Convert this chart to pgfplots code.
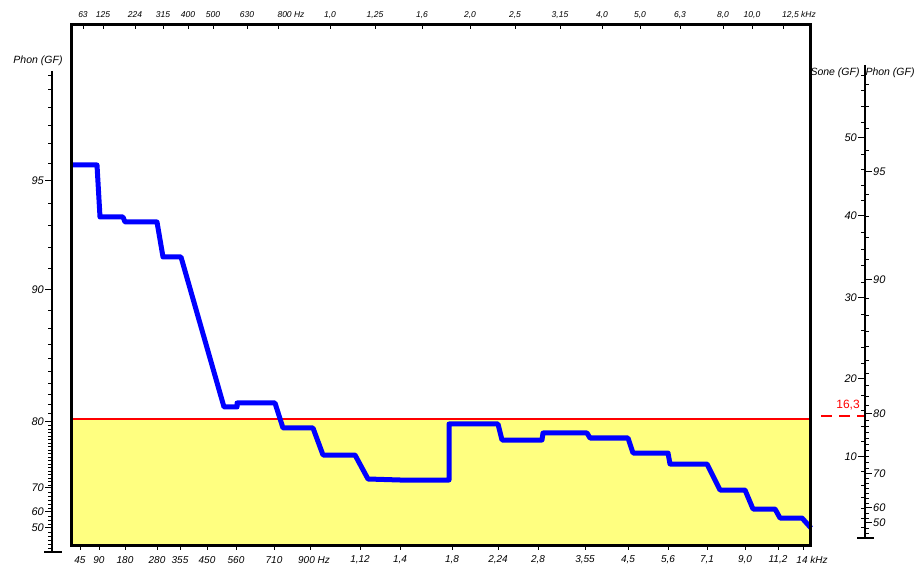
\documentclass[border=0pt]{standalone}
\usepackage{pgfplots}
\pgfplotsset{compat=1.18}
\usepackage{fontspec}
\setmainfont{Liberation Sans}
\definecolor{fillyel}{RGB}{255,255,128}
\definecolor{curveblue}{RGB}{0,0,255}
\definecolor{limred}{RGB}{255,0,0}
\newcommand{\ft}{\itshape\fontsize{8.5}{10}\selectfont}
\newcommand{\fb}{\itshape\fontsize{10}{12}\selectfont}
\newcommand{\fs}{\itshape\fontsize{11}{13}\selectfont}
\newcommand{\fh}{\itshape\fontsize{10.5}{12}\selectfont}
\begin{document}
\begin{tikzpicture}
\begin{axis}[
  scale only axis, width=919pt, height=569pt,
  xmin=0, xmax=919, ymin=0, ymax=569, y dir=reverse,
  axis lines=none, clip=false, at={(0,0)}, anchor=south west,
]
% yellow region below the limit
\addplot[fill=fillyel, draw=none] coordinates {(71,419) (810,419) (810,546) (71,546)} -- cycle;
% limit line
\addplot[limred, line width=2pt] coordinates {(71,419) (810,419)};
\addplot[limred, line width=1.6pt, dash pattern=on 11pt off 7pt] coordinates {(821,416) (864,416)};
% loudness curve (pixel coordinates of the chart)
\addplot[curveblue, line width=5pt, line join=round] coordinates {
(71,165) (97,165) (100,217) (123,217) (125,222) (157,222) (163,257) (181,257)
(224,407) (237,407) (237,403) (275,403) (283,428) (313,428) (323,455) (355,455)
(368,479) (400,480) (449,480) (449,424) (498,424) (502,440) (542,440) (543,433)
(587,433) (590,438) (628,438) (633,453) (668,453) (670,464) (707,464) (720,490)
(745,490) (753,509) (775,509) (780,518) (802,518) (811,528)};
\end{axis}
\begin{scope}[x=1pt, y=-1pt, yshift=569pt]
% frame
\draw[line width=3pt] (71,25) rectangle (810,546);
% top labels
\foreach \x/\t in {83/63,103/125,135/224,163/315,188/400,213/500,247/630,291/{800 Hz},330/{1,0},375/{1,25},422/{1,6},470/{2,0},515/{2,5},560/{3,15},602/{4,0},640/{5,0},680/{6,3},723/{8,0},752/{10,0},799/{12,5 kHz}}
  {\node[font=\ft] at (\x,15) {\t};}
\foreach \x in {83,103,135,163,188,213,247,278,330,375,422,470,515,560,602,640,680,723,752,783}
  {\draw[line width=0.8pt] (\x,25) -- (\x,29);}
% bottom labels
\foreach \x/\t in {80/45,99/90,125/180,157/280,180/355,207/450,236/560,274/710,314/{900 Hz},360/{1,12},400/{1,4},452/{1,8},498/{2,24},538/{2,8},585/{3,55},628/{4,5},668/{5,6},707/{7,1},745/{9,0},778/{11,2},812/{14 kHz}}
  {\node[font=\fb] at (\x,560) {\t};}
\foreach \x in {80,99,125,157,180,207,236,274,310,360,400,452,498,538,585,628,668,707,745,778,803}
  {\draw[line width=0.8pt] (\x,546) -- (\x,550);}
% left phon scale
\node[font=\fh] at (38,61) {Phon (GF)};
\draw[line width=2.5pt] (52,71) -- (52,552);
\draw[line width=2.5pt] (44,552) -- (62,552);
\foreach \y/\t in {181/95,290/90,422/80,488/70,512/60,528/50}
  {\draw[line width=1pt] (45,\y) -- (52,\y); \node[font=\fs, anchor=east, inner sep=1pt] at (45,\y) {\t};}
\foreach \y in {75,89,107,125,143,163,203,225,247,268,310,328,344,358,371,383,394,404,413,425.5,429,432.5,436,439.5,443,446.5,450,453.5,457,460.5,464,467.5,471,474.5,478,481.5,485,492,496,500,504,508,516,520,524,532,536,540,544,548}
  {\draw[line width=0.7pt] (48,\y) -- (52,\y);}
% right sone / phon scale
\node[font=\fh] at (835,73) {Sone (GF)};
\node[font=\fh] at (890,73) {Phon (GF)};
\draw[line width=2.5pt] (865,65) -- (865,538);
\draw[line width=2.5pt] (857,538) -- (874,538);
\foreach \y/\t in {138/50,216/40,298/30,379/20,457/10}
  {\draw[line width=1pt] (858,\y) -- (865,\y); \node[font=\fs, anchor=east, inner sep=1pt] at (858,\y) {\t};}
\foreach \y/\t in {172/95,280/90,414/80,474/70,508/60,523/50}
  {\draw[line width=1pt] (865,\y) -- (872,\y); \node[font=\fs, anchor=west, inner sep=1pt] at (872,\y) {\t};}
\foreach \y in {75,90,106,122,154,169,185,200,232,249,265,282,314,330,347,363,395,410,426,441,471,485,497,508,518,527}
  {\draw[line width=0.7pt] (861,\y) -- (865,\y);}
\foreach \y in {84,106,128,150,194,216,237,259,298,315,331,346,360,373,385,396,405,420,426,432,438,444,450,456,462,468,478,483,488,493,498,503,513,518,528,533}
  {\draw[line width=0.7pt] (865,\y) -- (869,\y);}
\node[text=limred, font=\fontsize{12}{14}\selectfont] at (848,405) {16,3};
\pgfresetboundingbox
\useasboundingbox (0,0) rectangle (919,569);
\end{scope}
\end{tikzpicture}
\end{document}
